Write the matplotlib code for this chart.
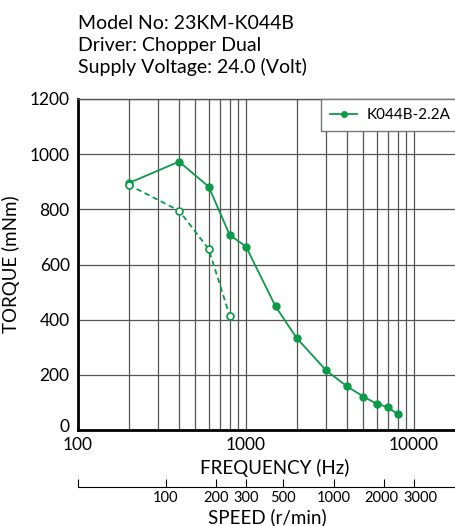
import matplotlib.pyplot as plt
from matplotlib.transforms import ScaledTranslation
import numpy as np

plt.rcParams['font.family'] = ['Lato', 'DejaVu Sans']

green = '#0a9a48'

# pull-out torque (solid line)
freq_out = [200, 400, 600, 800, 1000, 1500, 2000, 3000, 4000, 5000, 6000, 7000, 8000]
torque_out = [895, 973, 882, 707, 665, 448, 334, 216, 158, 121, 95, 83, 57]

# pull-in torque (dashed line)
freq_in = [200, 400, 600, 800]
torque_in = [889, 795, 656, 414]

speed_ticks = [30, 100, 200, 300, 500, 1000, 2000, 3000]
speed_labels = ['', '100', '200', '300', '500', '1000', '2000', '3000']

W, H = 456, 526
fig = plt.figure(figsize=(W / 100, H / 100), dpi=100)
ax = fig.add_axes([78 / W, (H - 430) / H, (W - 78) / W, (430 - 99) / H])

ax.plot(freq_out, torque_out, color=green, lw=1.3, marker='o', ms=5,
        label='K044B-2.2A', zorder=3)
ax.plot(freq_in, torque_in, color=green, lw=1.3, ls=(0, (3, 2)), marker='o', ms=5,
        mfc='white', mec=green, mew=1.2, zorder=3)

ax.set_xscale('log')
ax.set_xlim(100, 17800)
ax.set_ylim(0, 1200)
ax.set_yticks(np.arange(0, 1201, 200))
ax.set_xticks([100, 1000, 10000])
ax.set_xticklabels(['100', '1000', '10000'])
ax.xaxis.set_minor_formatter(plt.NullFormatter())
ax.tick_params(axis='y', which='both', length=0, labelsize=12.5, pad=6)
ax.tick_params(axis='x', which='both', length=0, labelsize=12.5, pad=5)

ax.grid(True, which='both', axis='x', color='#555555', lw=0.9)
ax.grid(True, which='major', axis='y', color='#555555', lw=0.9)
ax.set_axisbelow(True)

for s in ['left', 'bottom']:
    ax.spines[s].set_linewidth(2)
    ax.spines[s].set_color('black')
ax.spines['top'].set_color('#555555')
ax.spines['top'].set_linewidth(1)
ax.spines['right'].set_visible(False)

# lift the "0" label a little so it clears the "100" below it
for lbl in ax.get_yticklabels():
    if lbl.get_text() == '0':
        lbl.set_transform(lbl.get_transform() + ScaledTranslation(0, 4 / 100, fig.dpi_scale_trans))

ax.set_xlabel('FREQUENCY (Hz)', fontsize=13.5)
ax.xaxis.set_label_coords((275 - 78) / (W - 78), -(459 - 430) / (430 - 99))
ax.set_ylabel('TORQUE (mNm)', fontsize=13.5)
ax.yaxis.set_label_coords(-(78 - 20) / (W - 78), 0.5)

leg = ax.legend(loc='upper right', bbox_to_anchor=(1.01, 1.0), fontsize=11,
                fancybox=False, framealpha=1, edgecolor='#777777',
                borderaxespad=0, handlelength=1.8, handletextpad=0.6,
                markerscale=0.8, borderpad=0.6)
leg.get_frame().set_linewidth(1)

# speed axis (200 steps/rev -> r/min = Hz * 0.3)
sec = ax.secondary_xaxis(-0.172, functions=(lambda f: f * 0.3, lambda s: s / 0.3))
sec.set_xticks(speed_ticks)
sec.set_xticklabels(speed_labels)
sec.xaxis.set_minor_locator(plt.NullLocator())
sec.tick_params(axis='x', direction='in', length=6, width=0.8, labelsize=10.5, pad=3)
sec.spines['bottom'].set_linewidth(0.8)
sec.set_xlabel('SPEED (r/min)', fontsize=13.5, labelpad=2)

# nudge the two crowded labels apart
for lbl in sec.get_xticklabels():
    if lbl.get_text() == '2000':
        lbl.set_transform(lbl.get_transform() + ScaledTranslation(-3 / 100, 0, fig.dpi_scale_trans))
    if lbl.get_text() == '3000':
        lbl.set_transform(lbl.get_transform() + ScaledTranslation(6 / 100, 0, fig.dpi_scale_trans))

fig.text(78 / W, 1 - 29 / H, 'Model No: 23KM-K044B', fontsize=14)
fig.text(78 / W, 1 - 51 / H, 'Driver: Chopper Dual', fontsize=14)
fig.text(78 / W, 1 - 73 / H, 'Supply Voltage: 24.0 (Volt)', fontsize=14)

fig.savefig('out.png', dpi=100)
